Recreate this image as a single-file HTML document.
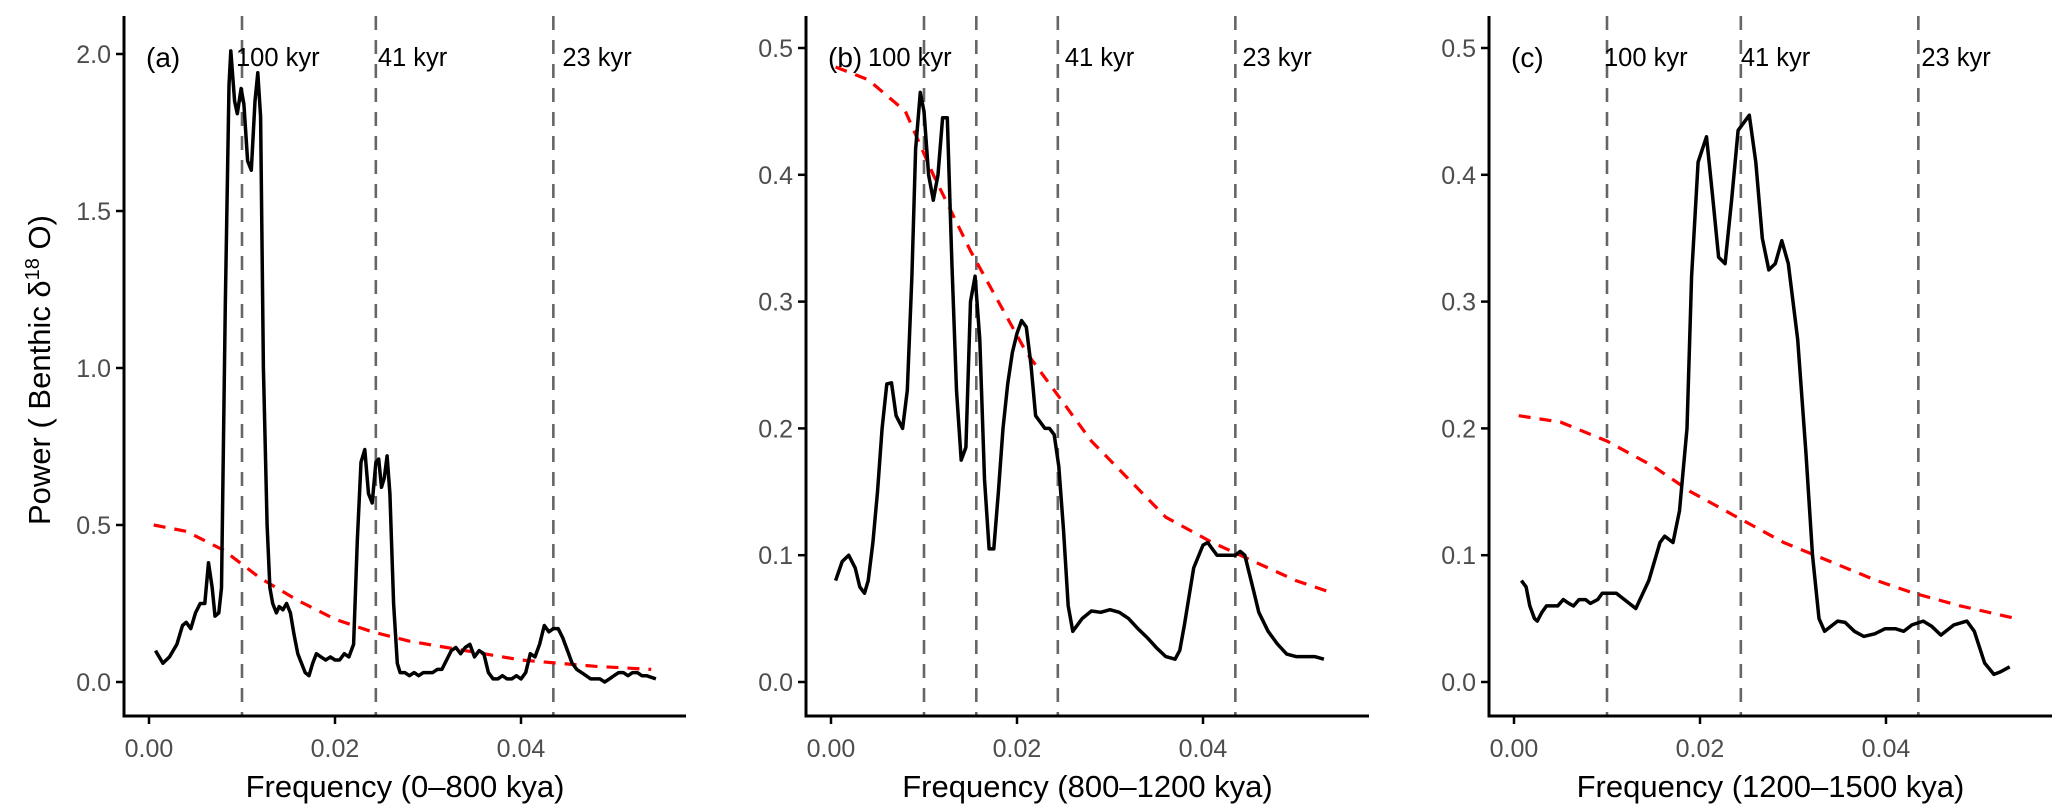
<!DOCTYPE html>
<html><head><meta charset="utf-8">
<style>
html,body{margin:0;padding:0;background:#fff;}
svg{display:block;font-family:"Liberation Sans",Arial,sans-serif;}
</style></head>
<body>
<svg id="chart" width="2067" height="809" viewBox="0 0 2067 809" xmlns="http://www.w3.org/2000/svg">
<text transform="translate(50,370) rotate(-90)" text-anchor="middle" font-size="31" fill="#000">Power ( Benthic δ<tspan baseline-shift="super" font-size="20">18</tspan> O)</text>
</svg>
<script>
// ---------- data ----------
const xTicks = [0.00, 0.02, 0.04];
const xTickLabels = ["0.00", "0.02", "0.04"];
const yTicksA = [0, 0.5, 1.0, 1.5, 2.0];
const yTickLabelsA = ["0.0", "0.5", "1.0", "1.5", "2.0"];
const yTicksBC = [0, 0.1, 0.2, 0.3, 0.4, 0.5];
const yTickLabelsBC = ["0.0", "0.1", "0.2", "0.3", "0.4", "0.5"];

const freqA = [0.0007,0.0015,0.0022,0.003,0.0036,0.004,0.0045,0.005,0.0055,0.006,0.0064,0.0068,0.0071,0.0075,0.0078,0.0082,0.0086,0.0088,0.0092,0.0095,0.0099,0.0102,0.0106,0.011,0.0114,0.0117,0.012,0.0123,0.0127,0.013,0.0133,0.0137,0.014,0.0144,0.0148,0.0152,0.0156,0.016,0.0164,0.0168,0.0172,0.0176,0.018,0.0185,0.019,0.0195,0.02,0.0205,0.021,0.0215,0.022,0.0224,0.0228,0.0232,0.0236,0.024,0.0244,0.0247,0.025,0.0253,0.0256,0.0259,0.0263,0.0267,0.027,0.0275,0.028,0.0285,0.029,0.0295,0.03,0.0305,0.031,0.0315,0.032,0.0325,0.033,0.0335,0.034,0.0345,0.035,0.0355,0.036,0.0365,0.037,0.0375,0.038,0.0385,0.039,0.0395,0.04,0.0405,0.041,0.0415,0.042,0.0425,0.043,0.0435,0.044,0.0445,0.045,0.0455,0.046,0.0465,0.047,0.0475,0.048,0.0485,0.049,0.0495,0.05,0.0505,0.051,0.0515,0.052,0.0525,0.053,0.0535,0.0545];
const powerA = [0.10,0.06,0.08,0.12,0.18,0.19,0.17,0.22,0.25,0.25,0.38,0.30,0.21,0.22,0.30,1.2,1.9,2.01,1.85,1.81,1.89,1.84,1.66,1.63,1.85,1.94,1.8,1.0,0.5,0.3,0.25,0.22,0.24,0.23,0.25,0.22,0.15,0.09,0.06,0.03,0.02,0.06,0.09,0.08,0.07,0.08,0.07,0.07,0.09,0.08,0.12,0.45,0.70,0.74,0.60,0.57,0.70,0.71,0.62,0.65,0.72,0.6,0.25,0.06,0.03,0.03,0.02,0.03,0.02,0.03,0.03,0.03,0.04,0.04,0.07,0.10,0.11,0.09,0.11,0.12,0.08,0.10,0.09,0.03,0.01,0.01,0.02,0.01,0.01,0.02,0.01,0.03,0.09,0.08,0.12,0.18,0.16,0.17,0.17,0.14,0.10,0.06,0.04,0.03,0.02,0.01,0.01,0.01,0.0,0.01,0.02,0.03,0.03,0.02,0.03,0.03,0.02,0.02,0.01];
const nullFreqA = [0.0005,0.004,0.008,0.012,0.016,0.02,0.024,0.028,0.032,0.036,0.04,0.044,0.048,0.054];
const nullPowerA = [0.50,0.48,0.42,0.33,0.26,0.20,0.16,0.13,0.11,0.09,0.07,0.06,0.05,0.04];

const freqB = [0.0005,0.0012,0.0019,0.0026,0.0031,0.0036,0.004,0.0045,0.005,0.0055,0.006,0.0065,0.007,0.0077,0.0082,0.0087,0.0091,0.0096,0.01,0.0105,0.011,0.0115,0.012,0.0125,0.013,0.0135,0.014,0.0145,0.015,0.0155,0.016,0.0165,0.017,0.0175,0.018,0.0185,0.019,0.0195,0.02,0.0205,0.021,0.0215,0.022,0.0225,0.023,0.0235,0.024,0.0245,0.025,0.0255,0.026,0.027,0.028,0.029,0.03,0.031,0.032,0.033,0.034,0.035,0.036,0.037,0.0375,0.038,0.039,0.04,0.0405,0.041,0.0415,0.042,0.043,0.0435,0.044,0.0445,0.045,0.0455,0.046,0.047,0.048,0.049,0.05,0.051,0.052,0.053];
const powerB = [0.08,0.095,0.10,0.09,0.075,0.07,0.08,0.11,0.15,0.20,0.235,0.236,0.21,0.20,0.23,0.32,0.42,0.465,0.45,0.40,0.38,0.40,0.445,0.445,0.33,0.23,0.175,0.185,0.30,0.32,0.27,0.16,0.105,0.105,0.15,0.20,0.235,0.26,0.275,0.285,0.28,0.25,0.21,0.205,0.20,0.20,0.195,0.17,0.12,0.06,0.04,0.05,0.056,0.055,0.057,0.055,0.05,0.042,0.035,0.027,0.02,0.018,0.025,0.045,0.09,0.108,0.11,0.105,0.10,0.10,0.10,0.10,0.103,0.10,0.085,0.07,0.055,0.04,0.03,0.022,0.02,0.02,0.02,0.018];
const nullFreqB = [0.0005,0.004,0.008,0.011,0.015,0.018,0.021,0.025,0.028,0.032,0.036,0.041,0.044,0.05,0.054];
const nullPowerB = [0.485,0.475,0.45,0.40,0.34,0.30,0.26,0.22,0.19,0.16,0.13,0.11,0.10,0.08,0.07];

const freqC = [0.0008,0.0013,0.0017,0.0022,0.0025,0.003,0.0035,0.0041,0.0047,0.0053,0.0059,0.0064,0.007,0.0077,0.0082,0.009,0.0095,0.01,0.011,0.0131,0.0145,0.0157,0.0162,0.0171,0.0178,0.0186,0.0191,0.0198,0.0207,0.0214,0.022,0.0227,0.0234,0.0241,0.0253,0.026,0.0267,0.0274,0.0281,0.0288,0.0295,0.0305,0.0314,0.0321,0.0328,0.0334,0.0348,0.0356,0.0366,0.0376,0.0388,0.0399,0.041,0.0419,0.0428,0.044,0.0449,0.0459,0.0473,0.0487,0.0495,0.0506,0.0516,0.0523,0.0533];
const powerC = [0.08,0.075,0.06,0.05,0.048,0.055,0.06,0.06,0.06,0.065,0.062,0.06,0.065,0.065,0.062,0.065,0.07,0.07,0.07,0.058,0.08,0.11,0.115,0.11,0.135,0.20,0.32,0.41,0.43,0.38,0.335,0.33,0.38,0.435,0.447,0.41,0.35,0.325,0.33,0.348,0.33,0.27,0.18,0.10,0.05,0.04,0.048,0.047,0.04,0.036,0.038,0.042,0.042,0.04,0.045,0.048,0.044,0.037,0.045,0.048,0.04,0.015,0.006,0.008,0.012];
const nullFreqC = [0.0005,0.005,0.01,0.015,0.019,0.024,0.029,0.034,0.039,0.043,0.048,0.054];
const nullPowerC = [0.21,0.205,0.19,0.17,0.15,0.13,0.11,0.095,0.08,0.07,0.06,0.05];

const periodsA = [100, 41, 23];
const periodsB = [100, 64, 41, 23];
const periodsC = [100, 41, 23];
const periodLabels = ["100 kyr", "41 kyr", "23 kyr"];

// ---------- layout ----------
const NS = "http://www.w3.org/2000/svg";
const svg = document.getElementById("chart");
const Y0 = 682, AXY = 716, TOP = 16;
const panels = [
  {id:"a", ax:124, end:686, ymax:2.0, yt:yTicksA, ytl:yTickLabelsA, f:freqA, p:powerA, nf:nullFreqA, np:nullPowerA, periods:periodsA, labelPeriods:[100,41,23], labelDx:[-6,2,9], title:"Frequency (0–800 kya)"},
  {id:"b", ax:806, end:1369, ymax:0.5, yt:yTicksBC, ytl:yTickLabelsBC, f:freqB, p:powerB, nf:nullFreqB, np:nullPowerB, periods:periodsB, labelPeriods:[100,41,23], labelDx:[-56,7,7], title:"Frequency (800–1200 kya)"},
  {id:"c", ax:1489, end:2052, ymax:0.5, yt:yTicksBC, ytl:yTickLabelsBC, f:freqC, p:powerC, nf:nullFreqC, np:nullPowerC, periods:periodsC, labelPeriods:[100,41,23], labelDx:[-3,0,3], title:"Frequency (1200–1500 kya)"}
];
function mk(tag, attrs, parent){
  const e = document.createElementNS(NS, tag);
  for (const k in attrs) e.setAttribute(k, attrs[k]);
  (parent||svg).appendChild(e);
  return e;
}
panels.forEach(P => {
  const g = mk("g", {});
  
  
  const x = f => P.ax + 25 + f * 9300;
  const y = v => P.ymax === 2.0 ? Y0 - v * 314 : Y0 - v * 1268;

  P.periods.forEach(per => {
    const l = mk("line", {x1:x(1/per), x2:x(1/per), y1:TOP, y2:AXY, stroke:"#666", "stroke-width":2.6, "stroke-dasharray":"14 10"}, g);
    
    
  });
  P.labelPeriods.forEach((per, i) => {
    const t = mk("text", {x:x(1/per) + P.labelDx[i], y:66, "font-size":25.5, fill:"#000"}, g);
    t.textContent = periodLabels[i];
    
    
  });
  const pl = mk("text", {x:P.ax + 22, y:67, "font-size":28, fill:"#000"}, g);
  pl.textContent = "(" + P.id + ")";
  
  

  const nd = P.nf.map((f,i) => (i?"L":"M") + x(f).toFixed(1) + "," + y(P.np[i]).toFixed(1)).join("");
  const red = mk("path", {d:nd, fill:"none", stroke:"#ff0000", "stroke-width":3.2, "stroke-dasharray":"12 9"}, g);
  
  

  const d = P.f.map((f,i) => (i?"L":"M") + x(f).toFixed(1) + "," + y(P.p[i]).toFixed(1)).join("");
  const blk = mk("path", {d:d, fill:"none", stroke:"#000", "stroke-width":3.5, "stroke-linejoin":"round"}, g);
  
  

  const ya = mk("line", {x1:P.ax, x2:P.ax, y1:TOP, y2:AXY + 1.5, stroke:"#000", "stroke-width":3}, g);
  
  
  const xa = mk("line", {x1:P.ax - 1.5, x2:P.end, y1:AXY, y2:AXY, stroke:"#000", "stroke-width":3}, g);
  
  

  P.yt.forEach((v,i) => {
    const tk = mk("line", {x1:P.ax - 8, x2:P.ax, y1:y(v), y2:y(v), stroke:"#000", "stroke-width":2.5}, g);
    
    
    const tl = mk("text", {x:P.ax - 13, y:y(v) + 9, "font-size":25, fill:"#4d4d4d", "text-anchor":"end"}, g);
    tl.textContent = P.ytl[i];
    
    
  });
  xTicks.forEach((v,i) => {
    const tk = mk("line", {x1:x(v), x2:x(v), y1:AXY, y2:AXY + 8, stroke:"#000", "stroke-width":2.5}, g);
    
    
    const tl = mk("text", {x:x(v), y:757, "font-size":25, fill:"#4d4d4d", "text-anchor":"middle"}, g);
    tl.textContent = xTickLabels[i];
    
    
  });
  const xt = mk("text", {x:(P.ax + P.end)/2, y:797, "font-size":31, fill:"#000", "text-anchor":"middle"}, g);
  xt.textContent = P.title;
  
  
});
</script>
</body></html>
